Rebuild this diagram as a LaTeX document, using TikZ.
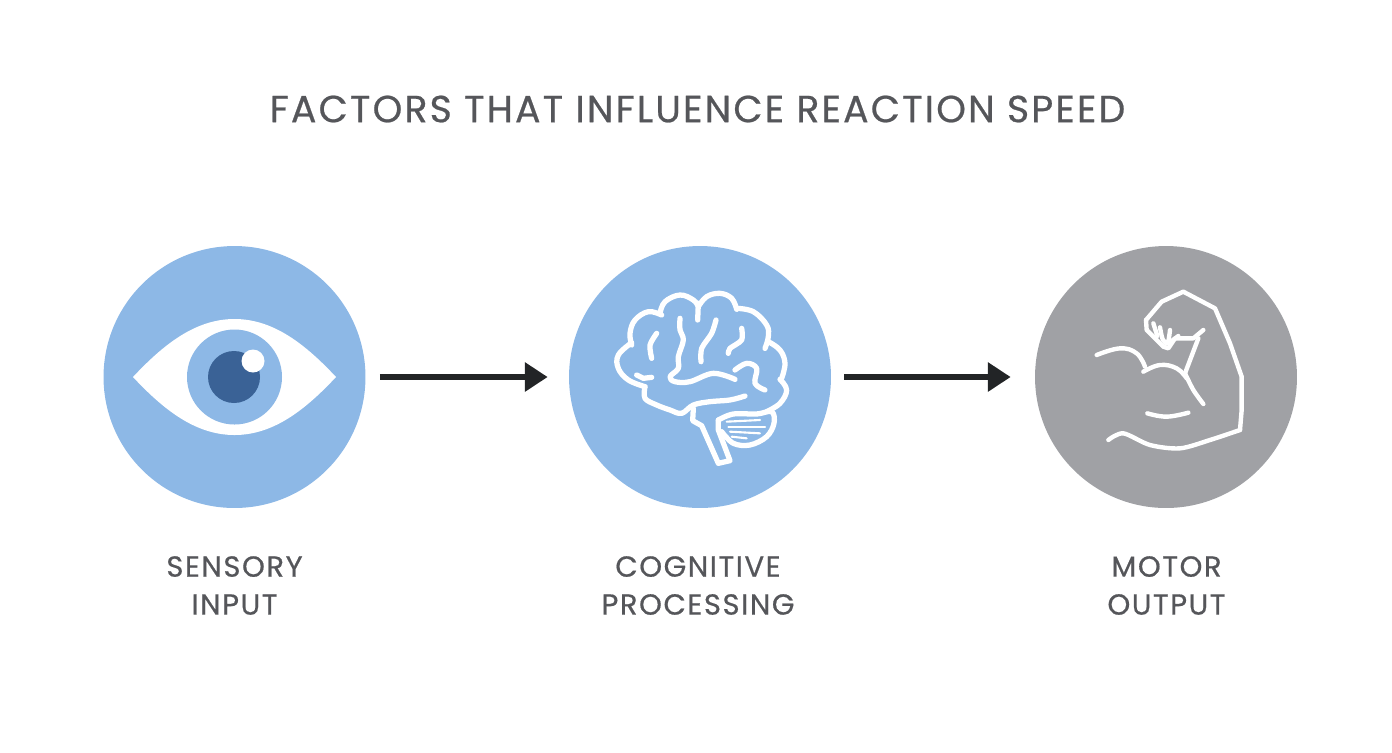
\documentclass[tikz,border=0pt]{standalone}
\usepackage{fontspec}
\setmainfont{Poppins}
\usetikzlibrary{arrows.meta}
\definecolor{rsblue}{RGB}{141,184,230}
\definecolor{rsgray}{RGB}{160,161,165}
\definecolor{rsdark}{RGB}{58,98,150}
\definecolor{rstext}{RGB}{85,86,90}
\definecolor{rsarrow}{RGB}{34,36,38}
\newfontfamily\labelfont[LetterSpace=5.5,FakeBold=0.6]{Poppins}
\newfontfamily\titlefont[LetterSpace=5.8,FakeBold=0.6]{Poppins}

\begin{document}
\begin{tikzpicture}[x=0.02cm,y=-0.02cm,>=Stealth,
    disc/.style={circle,minimum size=5.24cm,inner sep=0pt},
    caption/.style={text=rstext,align=center,font=\labelfont\fontsize{16.5}{21.6}\selectfont},
    flow/.style={->,rsarrow,line width=3.4pt,-{Stealth[length=13pt,width=16pt,inset=0pt]}},
    icon/.style={white,line width=3pt,line cap=round,line join=round},
    arm icon/.style={white,line width=2.5pt,line cap=round,line join=round},
    thin icon/.style={white,line width=1.2pt,line cap=round}]
  \useasboundingbox (0,0) rectangle (1392,752);
  \node[text=rstext,font=\titlefont\fontsize{21.5}{26}\selectfont] (title) at (697.5,109) {FACTORS THAT INFLUENCE REACTION SPEED};
  % three discs
  \node[disc,fill=rsblue] (sensory) at (234.5,377) {};
  \node[disc,fill=rsblue] (cognitive) at (700,377) {};
  \node[disc,fill=rsgray] (motor) at (1166,377) {};
  \node[caption] (sensorytext) at (234.5,585.5) {SENSORY\\INPUT};
  \node[caption] (cognitivetext) at (698,585.5) {COGNITIVE\\PROCESSING};
  \node[caption] (motortext) at (1166.5,585.5) {MOTOR\\OUTPUT};
  % arrows
  \draw[flow,shorten <=14*0.569pt,shorten >=21*0.569pt] (sensory) -- (cognitive);
  \draw[flow,shorten <=13*0.569pt,shorten >=24*0.569pt] (cognitive) -- (motor);
  % eye
  \fill[white] (133,377) .. controls (163,345) and (195,319) .. (234.5,319) .. controls (274,319) and (306,345) .. (336,377)
    .. controls (306,409) and (274,435) .. (234.5,435) .. controls (195,435) and (163,409) .. (133,377) -- cycle;
  \fill[rsblue] (234.5,377) circle (47.5);
  \fill[rsdark] (234,377) circle (26);
  \fill[white] (253,361) circle (11.5);
  % brain, in crop coordinates
  \begin{scope}[shift={(590,270)},x=0.00667cm,y=-0.00667cm]
    \draw[icon] plot[smooth,tension=0.65] coordinates {(165,350) (115,330) (85,295) (85,255) (125,218)};
    \draw[icon] plot[smooth,tension=0.65] coordinates {(125,225) (120,190) (135,150) (175,125) (215,135)};
    \draw[icon] plot[smooth,tension=0.65] coordinates {(210,130) (225,95) (270,75) (310,90) (325,110)};
    \draw[icon] (325,100) -- (323,150);
    \draw[icon] plot[smooth,tension=0.65] coordinates {(325,110) (350,80) (390,70) (425,85) (440,118)};
    \draw[icon] plot[smooth,tension=0.65] coordinates {(440,115) (490,125) (530,165) (535,200) (525,235)};
    \draw[icon] plot[smooth,tension=0.65] coordinates {(535,215) (570,240) (585,280) (575,325)};
    \draw[icon] plot[smooth,tension=0.65] coordinates {(570,328) (590,360) (570,400) (530,425)};
    \draw[icon] plot[smooth,tension=0.6] coordinates {(165,350) (165,385) (200,405) (240,420) (275,430) (310,405) (360,395) (420,390) (465,378)};
    \draw[icon] (140,315) -- (160,325) -- (185,322);
    % folds
    \draw[icon] plot[smooth] coordinates {(200,190) (180,225) (185,265)};
    \draw[icon] plot[smooth,tension=0.6] coordinates {(270,145) (270,180) (280,210) (265,260) (265,295) (240,320) (255,335) (300,335) (370,310) (435,328)};
    \draw[icon] plot[smooth] coordinates {(378,150) (365,190) (335,235) (333,275)};
    \draw[icon] plot[smooth] coordinates {(455,175) (455,210) (420,235) (415,250)};
    \draw[icon] plot[smooth,tension=0.6] coordinates {(435,300) (470,280) (500,295) (495,340) (525,360)};
    % stem and cerebellum
    \draw[icon] (310,415) -- (308,452) -- (335,467) -- (385,580) -- (420,572) -- (385,480) -- (385,450);
    \draw[icon] plot[smooth,tension=0.6] coordinates {(385,450) (430,432) (500,432) (545,425) (552,460) (530,500) (480,525) (430,520) (395,485)};
    \draw[thin icon] (410,455) -- (510,450);
    \draw[thin icon] (415,470) -- (525,470);
    \draw[thin icon] (420,485) -- (510,490);
    \draw[thin icon] (425,500) -- (470,505);
  \end{scope}
  % arm, in crop coordinates
  \begin{scope}[shift={(1070,270)},x=0.00667cm,y=-0.00667cm]
    \draw[arm icon] (228,150) -- (275,95) -- (340,65) -- (435,115) -- (480,220) -- (515,320) -- (515,420) -- (510,480);
    \draw[arm icon] plot[smooth,tension=0.5] coordinates {(510,480) (420,510) (330,535) (240,525) (160,490) (115,510)};
    \draw[arm icon] (228,150) -- (230,180) -- (280,230) -- (295,235) -- (315,205) -- (370,205) -- (400,180);
    \draw[arm icon] (250,160) -- (262,198);
    \draw[arm icon] plot[smooth] coordinates {(270,172) (278,208) (293,220) (300,180)};
    \draw[arm icon] (298,218) -- (325,198);
    \draw[arm icon] (385,205) -- (345,310);
    \draw[arm icon] plot[smooth] coordinates {(345,310) (370,360) (400,402)};
    \draw[arm icon] plot[smooth,tension=0.7] coordinates {(80,255) (150,235) (200,250) (225,290)};
    \draw[arm icon] plot[smooth,tension=0.7] coordinates {(220,305) (270,285) (320,295) (350,325)};
    \draw[arm icon] plot[smooth,tension=0.7] coordinates {(232,430) (290,440) (355,428)};
  \end{scope}
\end{tikzpicture}
\end{document}
